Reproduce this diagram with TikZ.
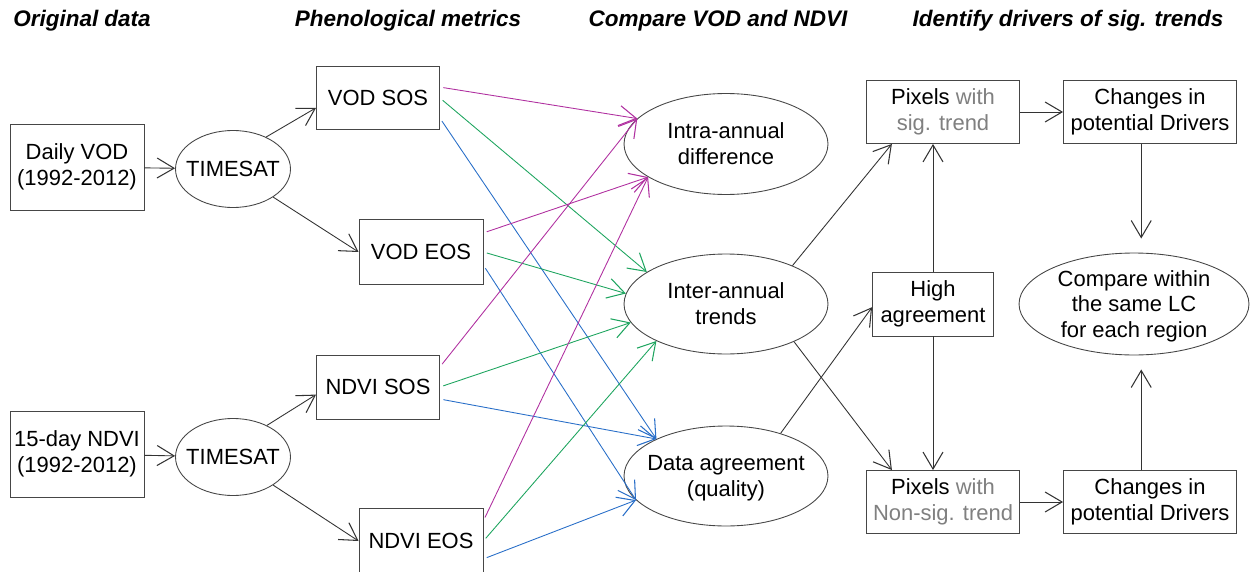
\documentclass[tikz,border=0pt]{standalone}
\usepackage{fontspec}
\setmainfont{Liberation Sans}
\usepackage{tikz}
\usetikzlibrary{shapes.geometric, arrows.meta, positioning, calc}

\definecolor{linegray}{RGB}{70,70,70}
\definecolor{softgray}{RGB}{128,128,128}
\definecolor{metmag}{RGB}{176,48,160}
\definecolor{metgreen}{RGB}{30,165,95}
\definecolor{metblue}{RGB}{40,110,200}

\newcommand{\ovaltext}[1]{\makebox[0pt]{\raisebox{-8.8pt}{\smash{\begin{tabular}{@{}c@{}}#1\end{tabular}}}}}

\begin{document}
\begin{tikzpicture}[
    x=0.02cm, y=-0.02cm,
    font=\fontsize{12.5}{14.5}\selectfont,
    >={Straight Barb[length=3.4mm, width=4mm, line width=0.6pt]},
    box/.style={draw=linegray, line width=0.5pt, rectangle, fill=white, inner sep=1pt, align=center},
    oval/.style={draw=linegray, line width=0.5pt, ellipse, fill=white, inner sep=0pt},
    head/.style={font=\fontsize{12.8}{15}\selectfont\bfseries\itshape, inner sep=0pt},
    flow/.style={->, line width=0.5pt, black!80},
    flowM/.style={->, line width=0.5pt, metmag},
    flowG/.style={->, line width=0.5pt, metgreen},
    flowB/.style={->, line width=0.5pt, metblue}
]
    \useasboundingbox (0,0) rectangle (1250,571);

    \node[head] (HOrig)  at (82,21)   {Original data};
    \node[head] (HPheno) at (408,21)  {Phenological metrics};
    \node[head] (HComp)  at (718,21)  {Compare VOD and NDVI};
    \node[head] (HDrive) at (1068,21) {Identify drivers of sig. trends};

    \node[box, minimum width=2.68cm, minimum height=1.72cm]  (VodIn)  at (77,167)  {Daily VOD\\(1992-2012)};
    \node[oval, minimum width=2.3cm, minimum height=1.54cm]  (Ts1)    at (233,169) {\ovaltext{TIMESAT}};
    \node[box, minimum width=2.46cm, minimum height=1.26cm]  (VodSos) at (378,98)  {VOD SOS};
    \node[box, minimum width=2.48cm, minimum height=1.3cm]   (VodEos) at (421,252) {VOD EOS};

    \node[box, minimum width=2.68cm, minimum height=1.72cm]  (NdviIn)  at (77,454)  {15-day NDVI\\(1992-2012)};
    \node[oval, minimum width=2.3cm, minimum height=1.54cm]  (Ts2)     at (233,457) {\ovaltext{TIMESAT}};
    \node[box, minimum width=2.46cm, minimum height=1.28cm]  (NdviSos) at (378,387) {NDVI SOS};
    \node[box, minimum width=2.48cm, minimum height=1.3cm]   (NdviEos) at (421,541) {NDVI EOS};

    \node[oval, minimum width=4.08cm, minimum height=2.02cm] (Intra) at (726,144) {\ovaltext{Intra-annual\\difference}};
    \node[oval, minimum width=4.08cm, minimum height=2.0cm]  (Inter) at (726,304) {\ovaltext{Inter-annual\\trends}};
    \node[oval, minimum width=4.08cm, minimum height=2.0cm]  (Agree) at (726,476) {\ovaltext{Data agreement\\(quality)}};

    \node[box, minimum width=3.06cm, minimum height=1.26cm]  (PixSig) at (943,112) {Pixels \textcolor{softgray}{with}\\\textcolor{softgray}{sig. trend}};
    \node[box, minimum width=2.42cm, minimum height=1.28cm]  (High)   at (933,304) {High\\agreement};
    \node[box, minimum width=3.06cm, minimum height=1.26cm]  (PixNon) at (943,502) {Pixels \textcolor{softgray}{with}\\\textcolor{softgray}{Non-sig. trend}};
    \node[box, minimum width=3.46cm, minimum height=1.26cm]  (DrvTop) at (1150,112) {Changes in\\potential Drivers};
    \node[box, minimum width=3.46cm, minimum height=1.26cm]  (DrvBot) at (1150,502) {Changes in\\potential Drivers};
    \node[oval, minimum width=4.6cm, minimum height=2.04cm]  (LcComp) at (1134,304) {\ovaltext{Compare within\\the same LC\\for each region}};

    \draw[flow] (VodIn) -- (Ts1);
    \draw[flow] (Ts1.44) -- (VodSos.189);
    \draw[flow] (Ts1.-35) -- (VodEos.west);
    \draw[flow] (NdviIn) -- (Ts2);
    \draw[flow] (Ts2.43) -- (NdviSos.187);
    \draw[flow] (Ts2.-35) -- (NdviEos.west);

    \draw[flowM, shorten <=2pt] (VodSos.10) -- (Intra.164);
    \draw[flowG, shorten <=2pt] (VodSos.0) -- (Inter.158);
    \draw[flowB, shorten <=2pt] (VodSos.-18) -- (Agree.152);
    \draw[flowM, shorten <=2pt] (VodEos.17) -- (Intra.203);
    \draw[flowG, shorten <=2pt] (VodEos.0) -- (Inter.174);
    \draw[flowB, shorten <=2pt] (VodEos.-12) -- (Agree.195);
    \draw[flowM, shorten <=2pt] (NdviSos.18) -- (Intra.164);
    \draw[flowG, shorten <=2pt] (NdviSos.0) -- (Inter.191);
    \draw[flowB, shorten <=2pt] (NdviSos.-11) -- (Agree.152);
    \draw[flowM, shorten <=2pt] (NdviEos.18) -- (Intra.203);
    \draw[flowG, shorten <=2pt] (NdviEos.0) -- (Inter.208);
    \draw[flowB, shorten <=2pt] (NdviEos.-16) -- (Agree.195);

    \draw[flow] (Inter.30) -- (PixSig.212);
    \draw[flow] (Inter.-29) -- (PixNon.148);
    \draw[flow] (Agree.38) -- (High.183);
    \draw[flow] (High.north) -- (High.north |- PixSig.south);
    \draw[flow] (High.south) -- (High.south |- PixNon.north);
    \draw[flow] (PixSig) -- (DrvTop);
    \draw[flow] (PixNon) -- (DrvBot);
    \draw[flow, shorten >=8pt] ([xshift=-5pt]DrvTop.south) -- ([xshift=-5pt]DrvTop.south |- LcComp.north);
    \draw[flow, shorten >=8pt] ([xshift=-5pt]DrvBot.north) -- ([xshift=-5pt]DrvBot.north |- LcComp.south);

\end{tikzpicture}
\end{document}
